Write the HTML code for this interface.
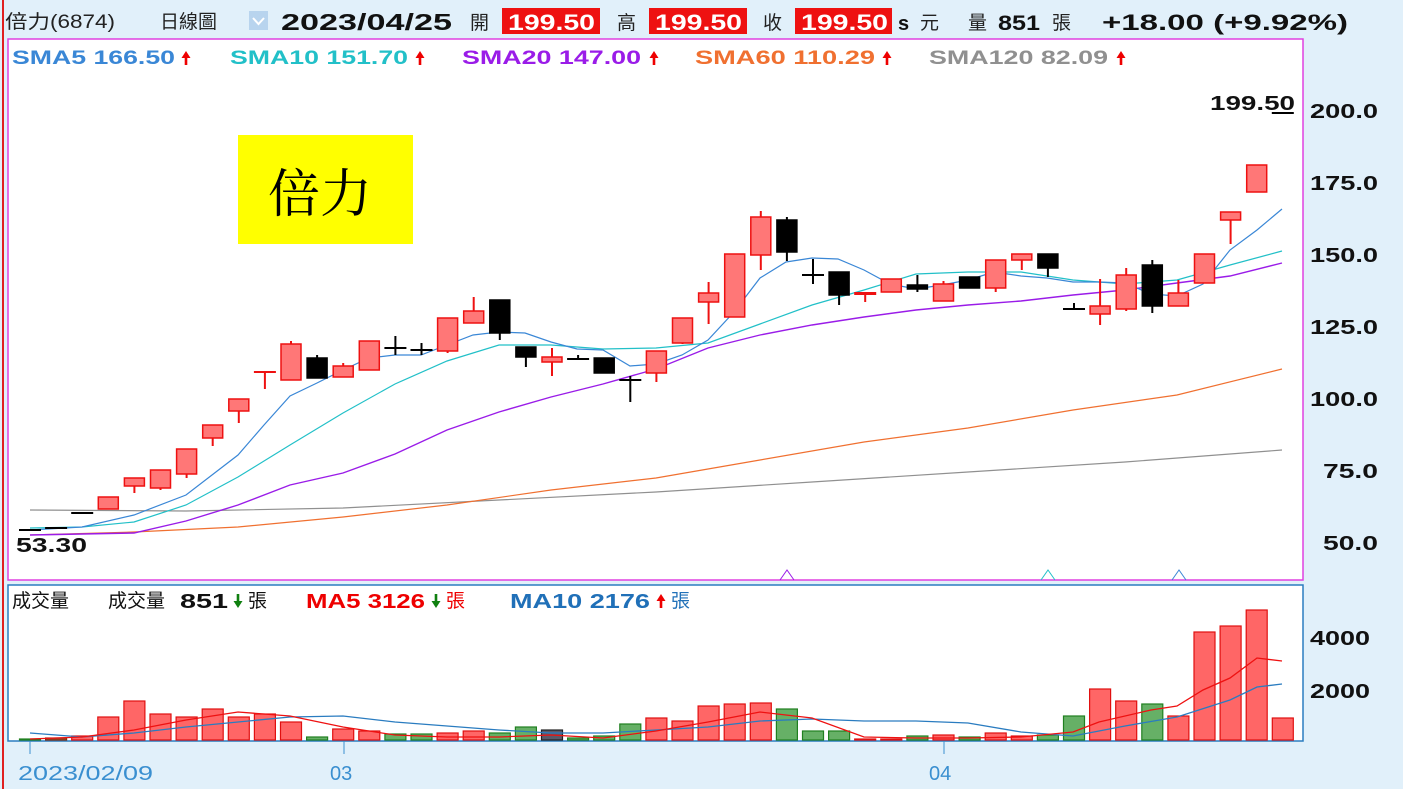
<!DOCTYPE html>
<html><head><meta charset="utf-8"><style>
body{margin:0;width:1403px;height:789px;overflow:hidden;background:#e1f0fa;font-family:"Liberation Sans","Noto Sans CJK TC",sans-serif;}
svg{position:absolute;left:0;top:0}
</style></head><body>
<svg id="s" width="1403" height="789" xmlns="http://www.w3.org/2000/svg" font-family="Liberation Sans, Noto Sans CJK TC, sans-serif">
<defs>
<g id="up"><path d="M0 -14 L4.5 -7 L1.3 -7 L1.3 0 L-1.3 0 L-1.3 -7 L-4.5 -7 Z"/></g>
<g id="dn"><path d="M0 0 L4.5 -7 L1.3 -7 L1.3 -14 L-1.3 -14 L-1.3 -7 L-4.5 -7 Z"/></g>
</defs>
<rect x="0" y="0" width="1403" height="789" fill="#e1f0fa"/>
<line x1="3" y1="0" x2="3" y2="789" stroke="#e02020" stroke-width="2"/>
<rect x="8" y="39" width="1295" height="541" fill="#fff" stroke="#e040e0" stroke-width="1.5"/>
<rect x="8" y="585" width="1295" height="156" fill="#fff" stroke="#2a7cc0" stroke-width="1.5"/>
<!-- top bar -->
<text x="5" y="28" font-size="19" fill="#222" textLength="110" lengthAdjust="spacingAndGlyphs">倍力(6874)</text>
<text x="160" y="28" font-size="19" fill="#222">日線圖</text>
<rect x="249" y="11" width="19" height="19" fill="#b8d4ee"/>
<path d="M253 18 L258.5 24 L264 18" fill="none" stroke="#fff" stroke-width="2"/>
<text x="281" y="30" font-size="23" font-weight="bold" fill="#111" textLength="171" lengthAdjust="spacingAndGlyphs">2023/04/25</text>
<text x="470" y="29" font-size="19" fill="#222">開</text>
<rect x="502" y="8" width="98" height="26" fill="#ee1111"/>
<text x="508" y="30" font-size="22" font-weight="bold" fill="#fff" textLength="87" lengthAdjust="spacingAndGlyphs">199.50</text>
<text x="617" y="29" font-size="19" fill="#222">高</text>
<rect x="649" y="8" width="98" height="26" fill="#ee1111"/>
<text x="655" y="30" font-size="22" font-weight="bold" fill="#fff" textLength="87" lengthAdjust="spacingAndGlyphs">199.50</text>
<text x="763" y="29" font-size="19" fill="#222">收</text>
<rect x="795" y="8" width="97" height="26" fill="#ee1111"/>
<text x="801" y="30" font-size="22" font-weight="bold" fill="#fff" textLength="87" lengthAdjust="spacingAndGlyphs">199.50</text>
<text x="898" y="30" font-size="20" font-weight="bold" fill="#111">s</text>
<text x="920" y="29" font-size="19" fill="#222">元</text>
<text x="968" y="29" font-size="19" fill="#222">量</text>
<text x="998" y="30" font-size="21" font-weight="bold" fill="#111" textLength="42" lengthAdjust="spacingAndGlyphs">851</text>
<text x="1052" y="29" font-size="19" fill="#222">張</text>
<text x="1102" y="30" font-size="22" font-weight="bold" fill="#111" textLength="246" lengthAdjust="spacingAndGlyphs">+18.00 (+9.92%)</text>
<!-- legend -->
<g font-size="19" font-weight="bold" lengthAdjust="spacingAndGlyphs">
<text x="12" y="64" fill="#3a87d6" textLength="163" lengthAdjust="spacingAndGlyphs">SMA5 166.50</text>
<text x="230" y="64" fill="#22c0c8" textLength="178" lengthAdjust="spacingAndGlyphs">SMA10 151.70</text>
<text x="462" y="64" fill="#9a1ce8" textLength="179" lengthAdjust="spacingAndGlyphs">SMA20 147.00</text>
<text x="695" y="64" fill="#f07030" textLength="180" lengthAdjust="spacingAndGlyphs">SMA60 110.29</text>
<text x="929" y="64" fill="#909090" textLength="179" lengthAdjust="spacingAndGlyphs">SMA120 82.09</text>
</g>
<g fill="#ee0000"><use href="#up" x="186" y="65"/><use href="#up" x="420" y="65"/><use href="#up" x="654" y="65"/><use href="#up" x="887" y="65"/><use href="#up" x="1121" y="65"/></g>
<rect x="238" y="135" width="175" height="109" fill="#ffff00"/>
<text x="268" y="212" font-size="52" fill="#000" font-family="Noto Serif CJK SC, serif">倍力</text>
<!-- right axis -->
<g font-size="20" font-weight="bold" fill="#111">
<text x="1310" y="118" textLength="68" lengthAdjust="spacingAndGlyphs">200.0</text><text x="1310" y="190" textLength="68" lengthAdjust="spacingAndGlyphs">175.0</text><text x="1310" y="262" textLength="68" lengthAdjust="spacingAndGlyphs">150.0</text>
<text x="1310" y="334" textLength="68" lengthAdjust="spacingAndGlyphs">125.0</text><text x="1310" y="406" textLength="68" lengthAdjust="spacingAndGlyphs">100.0</text><text x="1323" y="478" textLength="55" lengthAdjust="spacingAndGlyphs">75.0</text><text x="1323" y="550" textLength="55" lengthAdjust="spacingAndGlyphs">50.0</text>
<text x="1310" y="645" textLength="60" lengthAdjust="spacingAndGlyphs">4000</text><text x="1310" y="698" textLength="60" lengthAdjust="spacingAndGlyphs">2000</text>
</g>
<text x="1210" y="110" font-size="20" font-weight="bold" fill="#111" textLength="85" lengthAdjust="spacingAndGlyphs">199.50</text>
<text x="16" y="552" font-size="20" font-weight="bold" fill="#111" textLength="71" lengthAdjust="spacingAndGlyphs">53.30</text>
<g fill="none" stroke-width="1"><path d="M780 580 L787 570 L794 580" stroke="#9a1ce8"/><path d="M1041 580 L1048 570 L1055 580" stroke="#22c0c8"/><path d="M1172 580 L1179 570 L1186 580" stroke="#3a87d6"/></g>
<!-- volume legend -->
<text x="12" y="607" font-size="19" fill="#111">成交量</text>
<text x="108" y="607" font-size="19" fill="#111">成交量</text>
<text x="180" y="608" font-size="20" font-weight="bold" fill="#111" textLength="48" lengthAdjust="spacingAndGlyphs">851</text>
<use href="#dn" x="238" y="608" fill="#108010"/>
<text x="248" y="607" font-size="19" fill="#111">張</text>
<text x="306" y="608" font-size="20" font-weight="bold" fill="#e00" textLength="119" lengthAdjust="spacingAndGlyphs">MA5 3126</text>
<use href="#dn" x="436" y="608" fill="#108010"/>
<text x="446" y="607" font-size="19" fill="#e00">張</text>
<text x="510" y="608" font-size="20" font-weight="bold" fill="#2070b8" textLength="140" lengthAdjust="spacingAndGlyphs">MA10 2176</text>
<use href="#up" x="661" y="608" fill="#ee0000"/>
<text x="671" y="607" font-size="19" fill="#2070b8">張</text>
<!-- dates -->
<g stroke="#3a8fd0"><line x1="30" y1="741" x2="30" y2="754"/><line x1="344" y1="741" x2="344" y2="754"/><line x1="944" y1="741" x2="944" y2="754"/></g>
<g font-size="20" fill="#3a8fd0"><text x="18" y="780" textLength="135" lengthAdjust="spacingAndGlyphs">2023/02/09</text><text x="330" y="780">03</text><text x="929" y="780">04</text></g>
<g id="g"></g>
</svg>
<script>
var g=document.getElementById('g'),h='';
function X(i){return 30+26.1*i;}
function pl(pts,c,w){h+='<polyline fill="none" stroke="'+c+'" stroke-width="'+w+'" points="'+pts+'"/>';}
pl("30,510 186,511 343,508 499,500 656,492 812,482 968,472 1125,462 1282,450","#909090",1.2);
pl("30,535 134,532 238,527 343,517 447,505 551,490 656,478 760,460 864,442 968,428 1073,410 1177,395 1282,369","#f07030",1.2);
pl("30,535 82,534 134,533 186,521 238,505 290,485 343,473 395,454 447,430 499,412 551,397 603,384 656,369 708,348 760,335 812,325 864,317 916,310 968,305 1021,301 1073,295 1125,290 1177,283 1230,276 1282,263","#9a1ce8",1.4);
pl("30,528 82,527 134,522 186,505 238,477 290,445 343,413 395,384 447,361 499,345 551,345 603,349 656,348 708,343 760,324 812,305 864,290 916,274 968,272 1021,272 1073,280 1125,284 1177,280 1230,265 1282,251","#22c0c8",1.2);
pl("30,530 82,527 134,515 186,495 238,455 264,425 290,396 317,383 343,370 369,358 395,355 421,355 447,345 473,335 499,332 525,333 551,342 577,349 603,350 630,366 656,364 682,355 708,340 734,312 760,278 786,262 812,258 838,259 864,270 890,284 916,289 942,285 968,280 994,272 1021,276 1047,278 1073,282 1099,282 1125,283 1151,294 1177,296 1203,284 1230,250 1257,230 1282,209","#3a87d6",1.2);
var C=[['k',529,531,529,531],['k',527,529,527,529],['k',512,514,512,514],['r',497,509,497,509],['r',478,486,478,493],['r',470,488,470,490],['r',449,474,449,478],['r',425,438,425,446],['r',399,411,399,423],['r',371,373,371,389],
['r',344,380,341,380],['k',358,378,355,378],['r',366,377,363,377],['r',341,370,341,370],['k',347,349,336,355],['k',349,351,343,355],['r',318,351,318,353],['r',311,323,297,323],['k',300,333,300,340],['k',347,357,347,367],
['r',357,362,348,376],['k',358,360,355,360],['k',358,373,358,373],['k',379,381,376,402],['r',351,373,351,382],['r',318,343,318,344],['r',293,302,282,324],['r',254,317,254,317],['r',217,255,211,270],['k',220,252,217,261],
['k',274,276,259,284],['k',272,295,272,305],['r',292,295,292,302],['r',279,292,279,292],['k',285,289,275,292],['r',284,301,281,301],['k',277,288,277,288],['r',260,288,260,292],['r',254,260,254,270],['k',254,268,254,277],
['k',308,310,303,310],['r',306,314,279,325],['r',275,309,268,311],['k',265,306,260,313],['r',293,306,280,306],['r',254,283,254,283],['r',212,220,212,244],['r',165,192,165,192],['k',112,114,112,114]];
C.forEach(function(c,i){var x=X(i),r=c[0]=='r',s=r?'#ee1111':'#000',f=r?'#ff7777':'#000';
h+='<line x1="'+x+'" y1="'+c[3]+'" x2="'+x+'" y2="'+c[4]+'" stroke="'+s+'" stroke-width="2"/>';
var bh=c[2]-c[1];if(bh<=3){h+='<rect x="'+(x-11)+'" y="'+(c[1])+'" width="22" height="'+Math.max(bh,2)+'" fill="'+s+'"/>';}
else h+='<rect x="'+(x-10)+'" y="'+c[1]+'" width="20" height="'+bh+'" fill="'+f+'" stroke="'+s+'" stroke-width="1.5"/>';});
var V=[['g',739],['b',738],['r',736],['r',717],['r',701],['r',714],['r',717],['r',709],['r',717],['r',714],['r',722],['g',737],['r',729],['r',731],['g',734],['g',734],['r',733],['r',731],['g',733],['g',727],['d',730],['g',738],['g',736],['g',724],['r',718],['r',721],['r',706],['r',704],['r',703],['g',709],['g',731],['g',731],['r',739],['r',739],['g',736],['r',735],['g',737],['r',733],['r',736],['g',735],['g',716],['r',689],['r',701],['g',704],['r',716],['r',632],['r',626],['r',610],['r',718]];
var cl={r:['#ff6666','#e01010'],g:['#66b066','#208020'],b:['#a05030','#803010'],d:['#5a5a6a','#222']};
V.forEach(function(v,i){var x=X(i),c=cl[v[0]];h+='<rect x="'+(x-10.5)+'" y="'+v[1]+'" width="21" height="'+(740-v[1])+'" fill="'+c[0]+'" stroke="'+c[1]+'" stroke-width="1.2"/>';});
pl("30,733 82,737 134,733 186,727 238,722 290,717 343,716 395,722 447,726 499,730 551,733 603,733 656,730 708,727 760,721 812,719 864,721 916,721 968,723 1021,732 1073,736 1125,726 1177,717 1230,700 1257,687 1282,684","#2a7cc0",1.3);
pl("30,739 82,737 134,730 186,720 238,712 290,716 343,727 395,735 447,737 499,737 551,735 603,738 656,731 708,722 760,712 812,718 864,737 916,738 968,738 1021,737 1073,732 1099,722 1151,710 1177,706 1203,690 1230,678 1257,658 1282,661","#ee1111",1.3);
g.innerHTML=h;
</script>
</body></html>
